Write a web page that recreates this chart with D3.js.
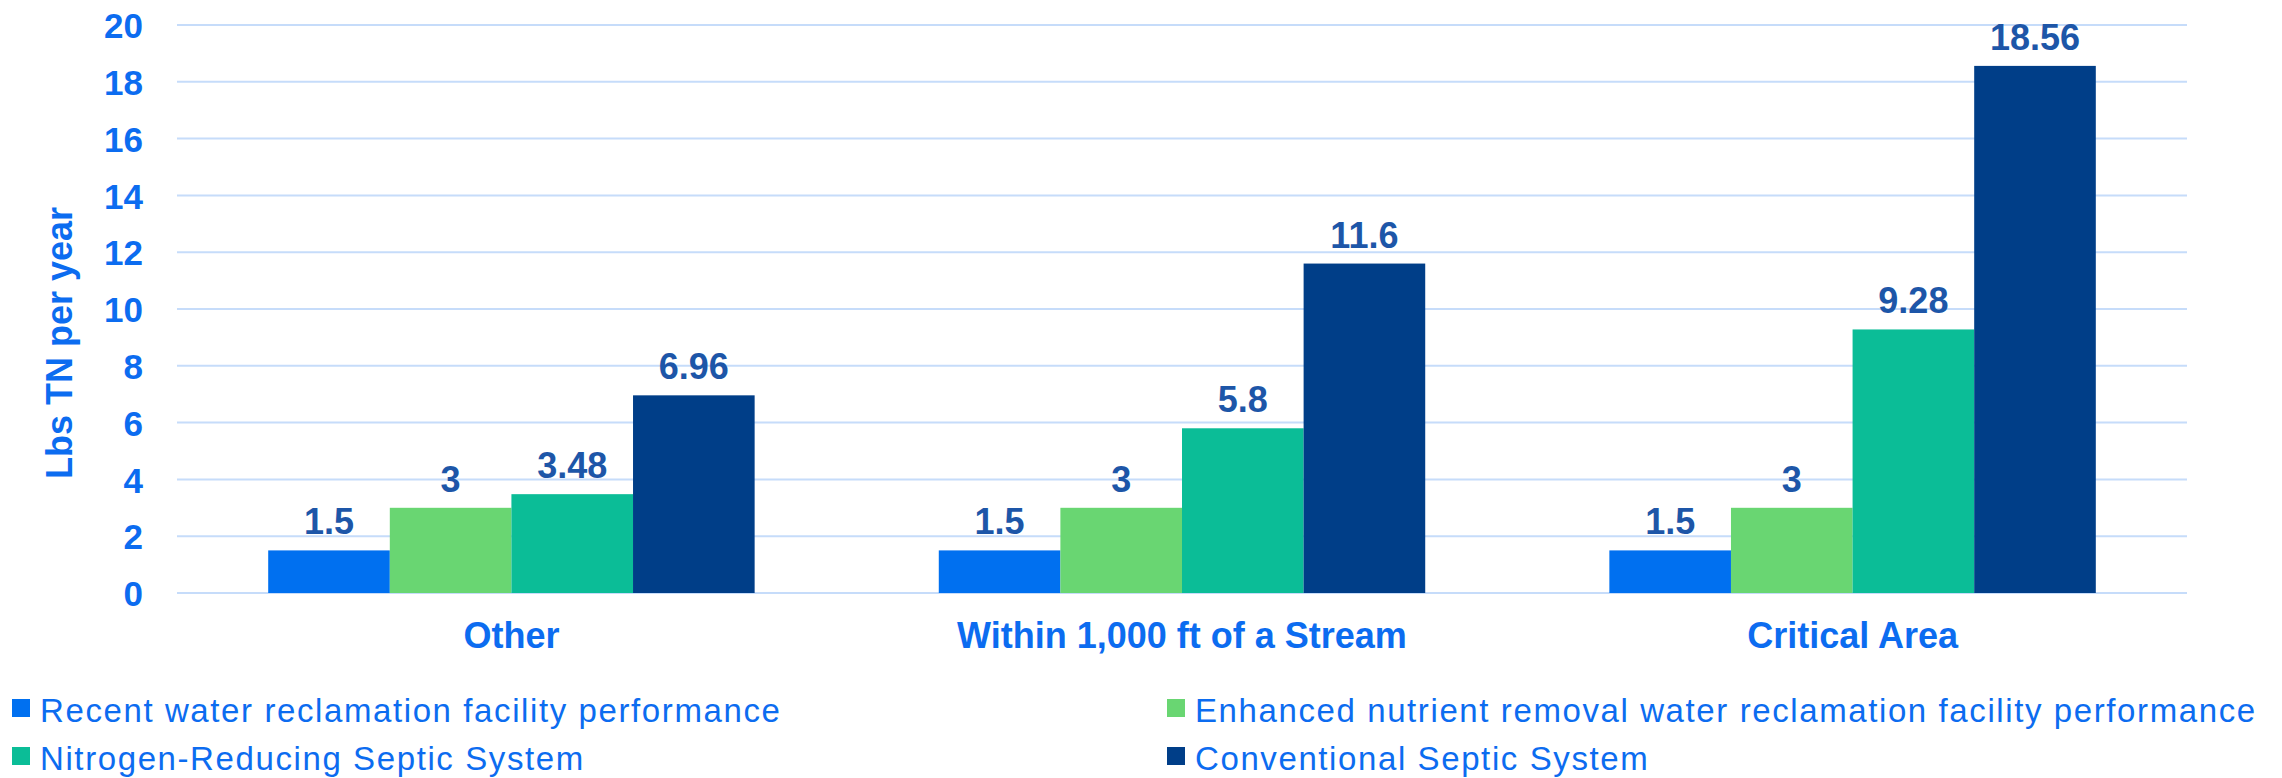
<!DOCTYPE html>
<html>
<head>
<meta charset="utf-8">
<script src="https://cdn.jsdelivr.net/npm/d3@7"></script>
<style>
  html, body { margin: 0; padding: 0; background: #ffffff; }
  svg { display: block; }
  text { font-family: "Liberation Sans", Arial, Helvetica, sans-serif; }
</style>
</head>
<body>
<svg id="chart" width="2282" height="778"></svg>
<script>
// Nitrogen load by location category and treatment type
const categories = ["Other", "Within 1,000 ft of a Stream", "Critical Area"];
const seriesNames = [
  "Recent water reclamation facility performance",
  "Enhanced nutrient removal water reclamation facility performance",
  "Nitrogen-Reducing Septic System",
  "Conventional Septic System"
];
const recentWRF      = [1.5, 1.5, 1.5];
const enhancedWRF    = [3, 3, 3];
const nReducingSeptic = [3.48, 5.8, 9.28];
const conventionalSeptic = [6.96, 11.6, 18.56];
const yTicks = [0, 2, 4, 6, 8, 10, 12, 14, 16, 18, 20];
const yTitle = "Lbs TN per year";

const seriesValues = [recentWRF, enhancedWRF, nReducingSeptic, conventionalSeptic];
const colors = ["#0070f0", "#69d672", "#0bbd97", "#003e88"];
const textBlue = "#0c6cf0";
const labelBlue = "#1d56a8";
const gridColor = "#c6dcfa";

const svg = d3.select("#chart");

// plot area
const plotLeft = 177, plotRight = 2187, plotTop = 25, plotBottom = 593;

const x0 = d3.scaleBand()
  .domain(categories)
  .range([plotLeft, plotRight])
  .paddingInner(0.2746)
  .paddingOuter(0.136);

const x1 = d3.scaleBand()
  .domain(d3.range(seriesNames.length))
  .range([0, x0.bandwidth()])
  .padding(0);

const y = d3.scaleLinear().domain([0, 20]).range([plotBottom, plotTop]);

// horizontal gridlines
svg.append("g")
  .selectAll("line")
  .data(yTicks)
  .join("line")
  .attr("x1", plotLeft)
  .attr("x2", plotRight)
  .attr("y1", d => y(d))
  .attr("y2", d => y(d))
  .attr("stroke", gridColor)
  .attr("stroke-width", 2);

// y axis tick labels
const yAxis = d3.axisLeft(y).tickValues(yTicks).tickSize(0).tickPadding(0);
const yg = svg.append("g").attr("transform", `translate(143,0)`).call(yAxis);
yg.select(".domain").remove();
yg.selectAll("text")
  .attr("fill", textBlue)
  .attr("font-size", 35)
  .attr("font-weight", "bold")
  .attr("font-family", "Liberation Sans, Arial, sans-serif")
  .attr("dy", "0.36em");

// y axis title
svg.append("text")
  .attr("transform", "translate(72,343) rotate(-90)")
  .attr("text-anchor", "middle")
  .attr("fill", textBlue)
  .attr("font-size", 36)
  .attr("font-weight", "bold")
  .text(yTitle);

// bars
const rows = categories.map((c, i) => ({
  category: c,
  values: seriesValues.map((s, k) => ({ k, v: s[i] }))
}));

const groups = svg.append("g")
  .selectAll("g")
  .data(rows)
  .join("g")
  .attr("transform", d => `translate(${x0(d.category)},0)`);

groups.selectAll("rect")
  .data(d => d.values)
  .join("rect")
  .attr("x", d => x1(d.k))
  .attr("width", x1.bandwidth())
  .attr("y", d => y(d.v))
  .attr("height", d => y(0) - y(d.v))
  .attr("fill", d => colors[d.k]);

// value labels
groups.selectAll("text.value")
  .data(d => d.values)
  .join("text")
  .attr("class", "value")
  .attr("x", d => x1(d.k) + x1.bandwidth() / 2)
  .attr("y", d => y(d.v) - 16)
  .attr("text-anchor", "middle")
  .attr("fill", labelBlue)
  .attr("font-size", 36)
  .attr("font-weight", "bold")
  .text(d => d.v);

// category axis labels
const xAxis = d3.axisBottom(x0).tickSize(0).tickPadding(0);
const xg = svg.append("g").attr("transform", `translate(0,${plotBottom})`).call(xAxis);
xg.select(".domain").remove();
xg.selectAll("text")
  .attr("fill", textBlue)
  .attr("font-size", 36)
  .attr("font-weight", "bold")
  .attr("font-family", "Liberation Sans, Arial, sans-serif")
  .attr("dy", 0)
  .attr("y", 55);

// legend: two columns, two rows
const legendCols = [12, 1167];
const legendRows = [722, 770];
const legend = svg.append("g")
  .selectAll("g")
  .data(seriesNames.map((name, k) => ({ name, k })))
  .join("g")
  .attr("transform", d => `translate(${legendCols[d.k % 2]},${legendRows[Math.floor(d.k / 2)]})`);

legend.append("rect")
  .attr("x", 0)
  .attr("y", -23)
  .attr("width", 18)
  .attr("height", 18)
  .attr("fill", d => colors[d.k]);

legend.append("text")
  .attr("x", 28)
  .attr("y", 0)
  .attr("fill", textBlue)
  .attr("font-size", 33)
  .attr("letter-spacing", "1.6px")
  .text(d => d.name);
</script>
</body>
</html>
